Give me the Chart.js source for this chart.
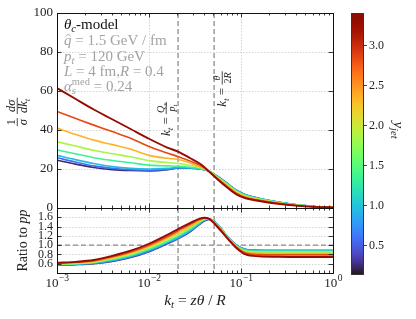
<!DOCTYPE html>
<html><head><meta charset="utf-8">
<script src="https://cdn.jsdelivr.net/npm/chart.js@4"></script>
<style>
html,body{margin:0;padding:0;background:#fff;}
#wrap{position:relative;width:416px;height:319px;overflow:hidden;}
#wrap canvas{position:absolute;left:0;top:0;}
</style></head><body>
<div id="wrap">
<canvas id="cTop" width="416" height="319"></canvas>
<canvas id="cBot" width="416" height="319"></canvas>
<canvas id="cBar" width="416" height="319"></canvas>
</div>
<script>
// ---------------- data ----------------
const ktValues = [0.001, 0.00158, 0.00251, 0.00398, 0.00631, 0.01, 0.0158, 0.0209, 0.0282, 0.0355, 0.0398, 0.0447, 0.0562, 0.0708, 0.0891, 0.112, 0.158, 0.251, 0.398, 0.631, 1.0];
const yjetBins = [3.3, 2.85, 2.35, 1.85, 1.35, 0.95, 0.6, 0.25];

const dist_y330 = [61.5, 56, 50.5, 45.5, 40.5, 35.5, 31, 28.8, 25.5, 22.8, 21, 18.8, 14.5, 10.5, 7, 5, 3.6, 2.2, 1.2, 0.6, 0.3];
const dist_y285 = [49.5, 46, 42.5, 39.2, 35.8, 31.5, 28.2, 26.3, 24, 22, 20.6, 18.8, 14.8, 11, 7.5, 5.4, 3.9, 2.4, 1.3, 0.65, 0.3];
const dist_y235 = [41, 37.8, 34.8, 32.5, 30.2, 27, 25.5, 24.9, 23, 21.3, 20.3, 19, 15.2, 11.5, 8, 5.8, 4.2, 2.6, 1.4, 0.7, 0.35];
const dist_y185 = [34, 31.8, 29.6, 27.8, 26.3, 24.3, 23.3, 22.8, 21.8, 20.8, 20, 19, 15.6, 12, 8.5, 6.2, 4.5, 2.8, 1.5, 0.75, 0.35];
const dist_y135 = [29.8, 27.8, 25.8, 24.4, 23.2, 22, 21.6, 21.4, 20.9, 20.3, 19.8, 19, 15.8, 12.3, 8.8, 6.5, 4.7, 2.9, 1.6, 0.8, 0.4];
const dist_y095 = [27, 24.8, 22.8, 21.2, 20.3, 20, 20.3, 20.8, 20.6, 20.1, 19.7, 19, 16, 12.5, 9, 6.7, 4.8, 3, 1.6, 0.8, 0.4];
const dist_y060 = [25.8, 23.6, 21.6, 20.3, 19.6, 19.4, 19.8, 20.6, 20.5, 20, 19.6, 19, 16.1, 12.6, 9.1, 6.8, 4.9, 3, 1.6, 0.8, 0.4];
const dist_y025 = [24.5, 22.5, 20.8, 19.7, 19.2, 19, 19.6, 20.6, 20.4, 20, 19.6, 19, 16.1, 12.6, 9.1, 6.8, 4.9, 3, 1.6, 0.8, 0.4];

const ratio_y330 = [0.62, 0.64, 0.68, 0.77, 0.88, 1.03, 1.22, 1.35, 1.48, 1.57, 1.59, 1.57, 1.38, 1.15, 0.94, 0.80, 0.76, 0.75, 0.745, 0.745, 0.745];
const ratio_y285 = [0.61, 0.63, 0.665, 0.75, 0.855, 1.0, 1.18, 1.31, 1.45, 1.55, 1.58, 1.57, 1.40, 1.16, 0.96, 0.83, 0.795, 0.79, 0.79, 0.79, 0.79];
const ratio_y235 = [0.60, 0.62, 0.65, 0.73, 0.83, 0.97, 1.15, 1.27, 1.41, 1.53, 1.57, 1.57, 1.41, 1.17, 0.97, 0.85, 0.825, 0.82, 0.82, 0.82, 0.82];
const ratio_y185 = [0.59, 0.605, 0.635, 0.71, 0.80, 0.94, 1.11, 1.23, 1.38, 1.51, 1.56, 1.57, 1.42, 1.18, 0.98, 0.87, 0.85, 0.85, 0.85, 0.85, 0.85];
const ratio_y135 = [0.585, 0.595, 0.625, 0.69, 0.78, 0.91, 1.08, 1.2, 1.35, 1.49, 1.55, 1.57, 1.43, 1.18, 0.99, 0.89, 0.87, 0.87, 0.87, 0.87, 0.87];
const ratio_y095 = [0.58, 0.59, 0.615, 0.675, 0.76, 0.89, 1.06, 1.17, 1.32, 1.47, 1.54, 1.565, 1.44, 1.19, 1.0, 0.905, 0.885, 0.885, 0.885, 0.885, 0.885];
const ratio_y060 = [0.575, 0.585, 0.605, 0.66, 0.745, 0.87, 1.04, 1.15, 1.3, 1.46, 1.53, 1.56, 1.44, 1.19, 1.0, 0.91, 0.89, 0.89, 0.89, 0.89, 0.89];
const ratio_y025 = [0.57, 0.58, 0.6, 0.65, 0.735, 0.86, 1.03, 1.14, 1.29, 1.45, 1.52, 1.555, 1.44, 1.19, 1.0, 0.905, 0.885, 0.88, 0.88, 0.88, 0.88];

const topYTicks = [0, 20, 40, 60, 80, 100];
const ratioYTicks = [0.6, 0.8, 1.0, 1.2, 1.4, 1.6];
const xMajorTicks = [0.001, 0.01, 0.1, 1];
const xTickExponents = ['\u22123', '\u22122', '\u22121', '0'];
const colorbarTicks = [0.5, 1.0, 1.5, 2.0, 2.5, 3.0];
const colorbarRange = [0.15, 3.41];
const refLinesKt = [0.0207, 0.051];
const ratioRef = 1.0;

const distSeries = [dist_y330, dist_y285, dist_y235, dist_y185, dist_y135, dist_y095, dist_y060, dist_y025];
const ratioSeries = [ratio_y330, ratio_y285, ratio_y235, ratio_y185, ratio_y135, ratio_y095, ratio_y060, ratio_y025];

// ---------------- helpers ----------------
const SERIF = '"Liberation Serif", "DejaVu Serif", serif';
function clamp01(v){ return Math.min(1, Math.max(0, v)); }
function turbo(t){
  t = clamp01(t);
  const r = 0.13572138 + t*(4.61539260 + t*(-42.66032258 + t*(132.13108234 + t*(-152.94239396 + t*59.28637943))));
  const g = 0.09140261 + t*(2.19418839 + t*(4.84296658 + t*(-14.18503333 + t*(4.27729857 + t*2.82956604))));
  const b = 0.10667330 + t*(12.64194608 + t*(-60.58204836 + t*(110.36276771 + t*(-89.90310912 + t*27.34824973))));
  return 'rgb(' + Math.round(255*clamp01(r)) + ',' + Math.round(255*clamp01(g)) + ',' + Math.round(255*clamp01(b)) + ')';
}
function cmap(v){ return turbo((v - colorbarRange[0]) / (colorbarRange[1] - colorbarRange[0])); }

function segFont(s, base){
  const sz = base * ((s.sub || s.sup) ? 0.7 : 1);
  return (s.it ? 'italic ' : '') + sz.toFixed(2) + 'px ' + SERIF;
}
function measure(ctx, segs, base){
  let w = 0;
  for (const s of segs){
    if (s.frac){
      const fb = base*0.78;
      w += Math.max(measure(ctx, s.frac[0], fb), measure(ctx, s.frac[1], fb)) + 2;
    } else {
      ctx.font = segFont(s, base);
      if (!s.keep) w += ctx.measureText(s.t).width;
    }
  }
  return w;
}
function drawSegs(ctx, segs, x, y, base){
  for (const s of segs){
    if (s.frac){
      const fb = base*0.78;
      const wn = measure(ctx, s.frac[0], fb), wd = measure(ctx, s.frac[1], fb);
      const w = Math.max(wn, wd) + 2;
      const barY = y - base*0.3;
      drawSegs(ctx, s.frac[0], x + (w-wn)/2, barY - 1.8, fb);
      drawSegs(ctx, s.frac[1], x + (w-wd)/2, barY + 1.5 + fb*0.68, fb);
      ctx.fillRect(x, barY - 0.4, w, 0.8);
      x += w;
    } else {
      ctx.font = segFont(s, base);
      let dy = 0;
      if (s.sub) dy = base*0.22;
      if (s.sup) dy = -base*0.4;
      ctx.fillText(s.t, x, y + dy);
      const w = ctx.measureText(s.t).width;
      if (s.hat){
        ctx.save();
        ctx.strokeStyle = ctx.fillStyle; ctx.lineWidth = 0.9;
        ctx.beginPath();
        ctx.moveTo(x + w*0.25, y - base*0.56);
        ctx.lineTo(x + w*0.58, y - base*0.74);
        ctx.lineTo(x + w*0.9, y - base*0.56);
        ctx.stroke();
        ctx.restore();
      }
      if (!s.keep) x += w;
    }
  }
  return x;
}
function drawRich(ctx, segs, x, y, base, color, align, rot){
  ctx.save();
  ctx.fillStyle = color; ctx.textAlign = 'left'; ctx.textBaseline = 'alphabetic';
  ctx.translate(x, y);
  if (rot) ctx.rotate(rot);
  const w = measure(ctx, segs, base);
  const x0 = align === 'center' ? -w/2 : (align === 'right' ? -w : 0);
  drawSegs(ctx, segs, x0, 0, base);
  ctx.restore();
}
function seg(t, o){ return Object.assign({t: t}, o || {}); }

function line(ctx, x1, y1, x2, y2){ ctx.beginPath(); ctx.moveTo(x1, y1); ctx.lineTo(x2, y2); ctx.stroke(); }

function makePanelPlugin(kind){
  return {
    id: 'panel_' + kind,
    beforeDatasetsDraw(chart){
      const ctx = chart.ctx, a = chart.chartArea, x = chart.scales.x, y = chart.scales.y;
      ctx.save();
      ctx.beginPath(); ctx.rect(a.left, a.top, a.right - a.left, a.bottom - a.top); ctx.clip();
      ctx.strokeStyle = '#c9c9c9'; ctx.lineWidth = 0.8; ctx.setLineDash([1.5, 1.5]);
      for (const v of xMajorTicks){ const px = Math.round(x.getPixelForValue(v)) + 0.5; line(ctx, px, a.top, px, a.bottom); }
      const yt = kind === 'top' ? topYTicks : ratioYTicks;
      for (const v of yt){ const py = Math.round(y.getPixelForValue(v)) + 0.5; line(ctx, a.left, py, a.right, py); }
      ctx.strokeStyle = '#8c8c8c'; ctx.lineWidth = 1.3; ctx.setLineDash([5, 3]);
      for (const v of refLinesKt){ const px = x.getPixelForValue(v); line(ctx, px, a.top, px, a.bottom); }
      if (kind === 'bot'){ const py = y.getPixelForValue(ratioRef); line(ctx, a.left, py, a.right, py); }
      ctx.restore();
    },
    afterDatasetsDraw(chart){
      const ctx = chart.ctx, a = chart.chartArea, x = chart.scales.x, y = chart.scales.y;
      ctx.save();
      ctx.strokeStyle = '#222'; ctx.lineWidth = 0.9; ctx.setLineDash([]);
      for (let d = -3; d <= 0; d++){
        for (let k = 1; k <= 9; k++){
          const v = k * Math.pow(10, d);
          if (v > 1.0001) break;
          const px = Math.round(x.getPixelForValue(v)) + 0.5;
          const L = k === 1 ? 4.5 : 2.5;
          line(ctx, px, a.bottom, px, a.bottom - L);
          line(ctx, px, a.top, px, a.top + L);
        }
      }
      const yt = kind === 'top' ? topYTicks : ratioYTicks;
      for (const v of yt){
        const py = Math.round(y.getPixelForValue(v)) + 0.5;
        line(ctx, a.left, py, a.left + 4.5, py);
        line(ctx, a.right, py, a.right - 4.5, py);
      }
      ctx.lineWidth = 1; ctx.strokeStyle = '#111';
      ctx.strokeRect(Math.round(a.left) + 0.5, Math.round(a.top) + 0.5, Math.round(a.right - a.left), Math.round(a.bottom - a.top));
      ctx.restore();

      if (kind === 'top'){
        const L0 = a.left + 7;
        drawRich(ctx, [seg('\u03B8', {it:true}), seg('c', {it:true, sub:true}), seg('-model')], L0, a.top + 16, 15, '#111');
        const gray = '#a3a3a3';
        drawRich(ctx, [seg('q', {it:true, hat:true}), seg(' = 1.5 GeV / fm')], L0, a.top + 32, 15, gray);
        drawRich(ctx, [seg('p', {it:true}), seg('t', {it:true, sub:true}), seg(' = 120 GeV')], L0, a.top + 47.5, 15, gray);
        drawRich(ctx, [seg('L', {it:true}), seg(' = 4 fm,'), seg('R', {it:true}), seg(' = 0.4')], L0, a.top + 63, 15, gray);
        drawRich(ctx, [seg('\u03B1', {it:true}), seg('s', {it:true, sub:true, keep:true}), seg('med', {sup:true}), seg(' = 0.24')], L0, a.top + 78, 15, gray);
        const p1 = x.getPixelForValue(refLinesKt[0]);
        drawRich(ctx, [seg('k', {it:true}), seg('t', {it:true, sub:true}), seg(' = '),
          {frac: [[seg('Q', {it:true}), seg('s', {it:true, sub:true})], [seg('p', {it:true}), seg('t', {it:true, sub:true})]]}],
          p1 - 8, 119, 13, '#222', 'center', -Math.PI/2);
        const p2 = x.getPixelForValue(refLinesKt[1]);
        drawRich(ctx, [seg('k', {it:true}), seg('t', {it:true, sub:true}), seg(' = '),
          {frac: [[seg('\u03B8', {it:true})], [seg('2'), seg('R', {it:true})]]}],
          p2 + 12, 89, 13, '#222', 'center', -Math.PI/2);
        drawRich(ctx, [{frac: [[seg('1')], [seg('\u03C3', {it:true})]]}, seg(' '),
          {frac: [[seg('d\u03C3', {it:true})], [seg('dk', {it:true}), seg('t', {it:true, sub:true})]]}],
          22, 112, 16, '#222', 'center', -Math.PI/2);
      } else {
        ctx.save();
        ctx.fillStyle = '#222'; ctx.textBaseline = 'alphabetic'; ctx.textAlign = 'left';
        xMajorTicks.forEach(function(v, i){
          const px = x.getPixelForValue(v);
          ctx.font = '13px ' + SERIF; const w1 = ctx.measureText('10').width;
          ctx.font = '9.5px ' + SERIF; const w2 = ctx.measureText(xTickExponents[i]).width;
          const x0 = px - (w1 + w2)/2;
          ctx.font = '13px ' + SERIF; ctx.fillText('10', x0, a.bottom + 14);
          ctx.font = '9.5px ' + SERIF; ctx.fillText(xTickExponents[i], x0 + w1 + 0.5, a.bottom + 8);
        });
        ctx.restore();
        drawRich(ctx, [seg('k', {it:true}), seg('t', {it:true, sub:true}), seg(' = '), seg('z\u03B8', {it:true}), seg(' / '), seg('R', {it:true})],
          (a.left + a.right)/2, a.bottom + 32, 15.5, '#222', 'center');
        drawRich(ctx, [seg('Ratio to '), seg('pp', {it:true})], 27, (a.top + a.bottom)/2, 14, '#222', 'center', -Math.PI/2);
      }
    }
  };
}

function buildSets(seriesList){
  return seriesList.map(function(arr, i){
    return {
      data: arr.map(function(v, j){ return {x: ktValues[j], y: v}; }),
      borderColor: cmap(yjetBins[i]),
      borderWidth: i === 0 ? 1.9 : 1.6,
      pointRadius: 0,
      fill: false,
      cubicInterpolationMode: 'monotone'
    };
  });
}

Chart.defaults.font.family = SERIF;
Chart.defaults.color = '#222';

new Chart(document.getElementById('cTop'), {
  type: 'line',
  data: { datasets: buildSets(distSeries) },
  options: {
    responsive: false, animation: false, events: [],
    layout: { padding: { left: 0, top: 13, right: 83, bottom: 111 } },
    plugins: { legend: { display: false }, tooltip: { enabled: false } },
    scales: {
      x: { type: 'logarithmic', min: 0.001, max: 1, display: false },
      y: { type: 'linear', min: 0, max: 100,
        afterFit: function(s){ s.width = 57; },
        afterBuildTicks: function(s){ s.ticks = topYTicks.map(function(v){ return {value: v}; }); },
        ticks: { font: { family: SERIF, size: 13 }, color: '#222', padding: 4, autoSkip: false },
        grid: { display: false, drawTicks: false }, border: { display: false } }
    }
  },
  plugins: [makePanelPlugin('top')]
});

new Chart(document.getElementById('cBot'), {
  type: 'line',
  data: { datasets: buildSets(ratioSeries) },
  options: {
    responsive: false, animation: false, events: [],
    layout: { padding: { left: 0, top: 208, right: 83, bottom: 46 } },
    plugins: { legend: { display: false }, tooltip: { enabled: false } },
    scales: {
      x: { type: 'logarithmic', min: 0.001, max: 1, display: false },
      y: { type: 'linear', min: 0.4, max: 1.8,
        afterFit: function(s){ s.width = 57; },
        afterBuildTicks: function(s){ s.ticks = ratioYTicks.map(function(v){ return {value: v}; }); },
        ticks: { font: { family: SERIF, size: 12 }, color: '#222', padding: 4, autoSkip: false,
          callback: function(v){ return Number(v).toFixed(1); } },
        grid: { display: false, drawTicks: false }, border: { display: false } }
    }
  },
  plugins: [makePanelPlugin('bot')]
});

new Chart(document.getElementById('cBar'), {
  type: 'bar',
  data: { labels: [''], datasets: [{
    data: [colorbarRange],
    barPercentage: 1, categoryPercentage: 1,
    borderWidth: 0,
    backgroundColor: function(c){
      const ch = c.chart, a = ch.chartArea;
      if (!a) return '#888';
      const ys = ch.scales.y;
      const g = ch.ctx.createLinearGradient(0, ys.getPixelForValue(colorbarRange[0]), 0, ys.getPixelForValue(colorbarRange[1]));
      for (let i = 0; i <= 40; i++){ g.addColorStop(i/40, turbo(i/40)); }
      return g;
    }
  }] },
  options: {
    responsive: false, animation: false, events: [],
    layout: { padding: { left: 351, top: 13, right: 0, bottom: 45 } },
    plugins: { legend: { display: false }, tooltip: { enabled: false } },
    scales: {
      x: { type: 'category', display: false },
      y: { type: 'linear', position: 'right', min: colorbarRange[0], max: colorbarRange[1],
        afterFit: function(s){ s.width = 53; },
        afterBuildTicks: function(s){ s.ticks = colorbarTicks.map(function(v){ return {value: v}; }); },
        ticks: { font: { family: SERIF, size: 12 }, color: '#222', padding: 2, autoSkip: false,
          callback: function(v){ return Number(v).toFixed(1); } },
        grid: { display: true, drawOnChartArea: false, drawTicks: true, tickLength: 4, color: '#333', lineWidth: 0.9 },
        border: { display: false } }
    }
  },
  plugins: [{
    id: 'cbarFrame',
    afterDatasetsDraw(chart){
      const ctx = chart.ctx, a = chart.chartArea;
      ctx.save();
      ctx.strokeStyle = '#333'; ctx.lineWidth = 1;
      ctx.strokeRect(Math.round(a.left) + 0.5, Math.round(a.top) + 0.5, Math.round(a.right - a.left), Math.round(a.bottom - a.top));
      ctx.restore();
      drawRich(ctx, [seg('y', {it:true}), seg('jet', {it:true, sub:true})], 394, 130, 15, '#222', 'center', Math.PI/2);
    }
  }]
});
</script>
</body></html>
